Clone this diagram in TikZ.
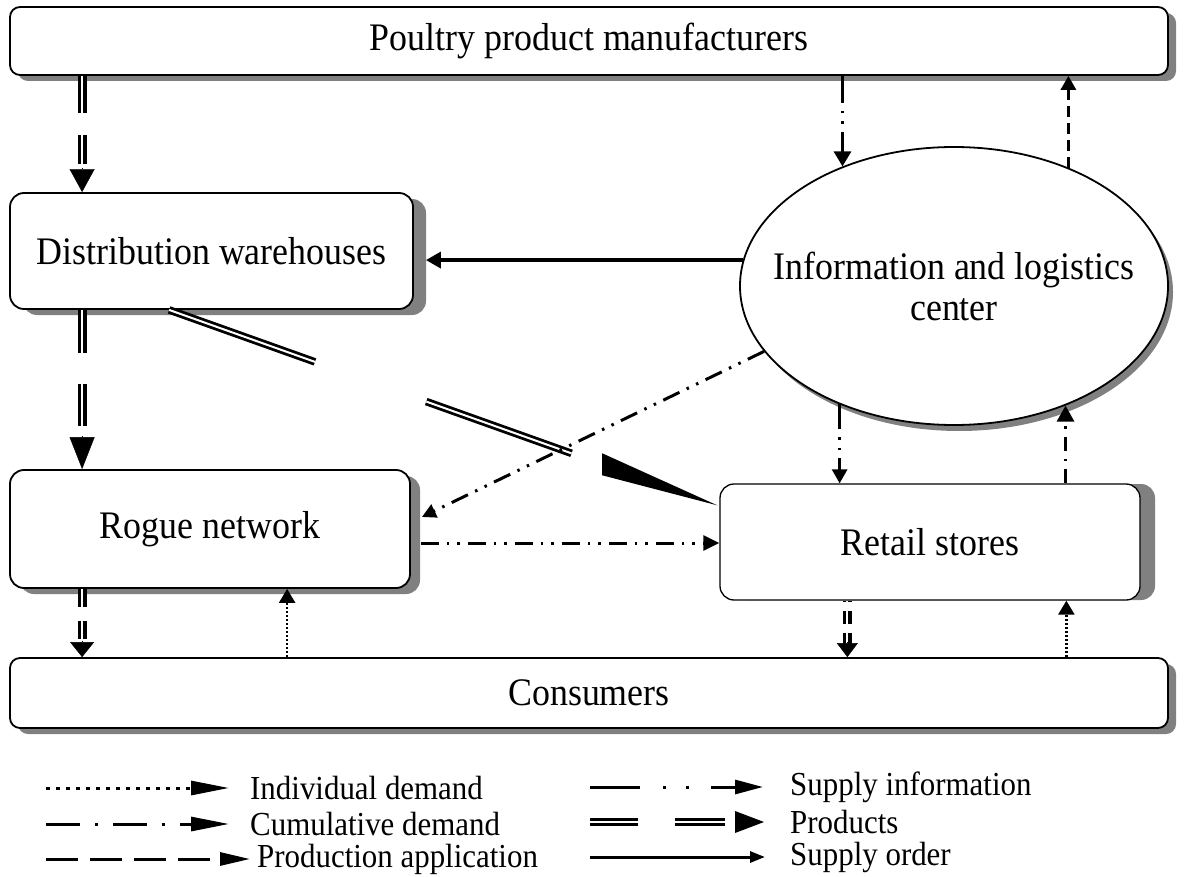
\documentclass[tikz,border=0pt]{standalone}
\usepackage{fontspec}
\setmainfont{Liberation Serif}[FakeStretch=0.92]
\usetikzlibrary{arrows.meta,shadows,calc,shapes.geometric}
\definecolor{shade}{RGB}{128,128,128}
\begin{document}
\begin{tikzpicture}[x=1pt,y=-1pt,
  every node/.style={inner sep=0pt},
  boxfont/.style={font=\fontsize{39}{41}\selectfont},
  legfont/.style={font=\fontsize{33.6}{36}\selectfont},
  box/.style={draw,line width=1.8pt,fill=white,rounded corners=14pt,boxfont},
  shd/.style={drop shadow={shadow xshift=#1,shadow yshift=-6pt,opacity=1,fill=shade}},
  % products: double line
  prod/.style={draw=black,line width=3.4pt,double=white,double distance=2pt},
  prodthin/.style={draw=black,line width=2.8pt,double=white,double distance=2pt},
  prodhead/.style 2 args={line width=0.4pt,-{Triangle[length=#1,width=#2]}},
  % information flows
  supinfo/.style={line width=3pt,dash pattern=on 18pt off 8pt on 2.5pt off 8pt on 2.5pt off 8pt},
  cumdem/.style={line width=3pt,dash pattern=on 14pt off 8pt on 2.5pt off 8pt},
  prodapp/.style={line width=3pt,dash pattern=on 11pt off 6pt},
  inddem/.style={line width=2.5pt,dash pattern=on 2pt off 2pt},
  suporder/.style={line width=3.5pt,-{Triangle[length=15pt,width=16pt]}},
  tipA/.style={-{Triangle[length=15pt,width=17pt]}},
  tipB/.style={-{Triangle[length=14pt,width=16pt]}},
]
\useasboundingbox (0,0) rectangle (1188,877);
\fill[white] (0,0) rectangle (1188,877);

% ---- boxes ----
\node[box,shd=8pt,rounded corners=10pt,minimum width=1158pt,minimum height=68pt] (top) at (589,41) {Poultry product manufacturers};
\node[box,shd=13pt,minimum width=403pt,minimum height=116pt] (dw) at (211.5,251) {Distribution warehouses};
\node[box,shd=10pt,minimum width=400pt,minimum height=118pt] (rn) at (210,529) {Rogue network};
\node[box,line width=1.3pt,drop shadow={shadow xshift=15pt,shadow yshift=0pt,opacity=1,fill=shade},minimum width=420pt,minimum height=116pt] (rs) at (930,542) {Retail stores};
\node[box,shd=8pt,rounded corners=10pt,minimum width=1158pt,minimum height=70pt] (cons) at (589,693) {Consumers};
\node[ellipse,draw,line width=1.8pt,fill=white,drop shadow={shadow xshift=5pt,shadow yshift=-6pt,opacity=1,fill=shade},minimum width=428pt,minimum height=278pt] (ilc) at (954,286) {};
\node[boxfont,align=center] (ilctext) at (ilc.center) {Information and logistics\\center};

% ---- products (double lines) ----
\coordinate (p1s) at ([xshift=73pt]top.south west);
\coordinate (p1e) at ([xshift=73pt]dw.north west);
\draw[prod,dash pattern=on 37pt off 22pt,shorten >=28pt] (p1s) -- (p1e);
\draw[prodhead={23pt}{25pt}] ($(p1e)!24pt!(p1s)$) -- (p1e);

\coordinate (p2s) at ([xshift=73pt]dw.south west);
\coordinate (p2e) at ([xshift=73pt]rn.north west);
\draw[prod,dash pattern=on 43pt off 31pt,shorten >=43pt] (p2s) -- (p2e);
\draw[prodhead={32pt}{25pt}] ($(p2e)!33pt!(p2s)$) -- (p2e);

\coordinate (p3s) at ([xshift=73pt]rn.south west);
\coordinate (p3e) at ([xshift=73pt]cons.north west);
\draw[prod,dash pattern=on 18pt off 14pt,shorten >=16pt] (p3s) -- (p3e);
\draw[prodhead={15pt}{24pt}] ($(p3e)!16pt!(p3s)$) -- (p3e);

\coordinate (p4s) at ([xshift=128pt]rs.south west);
\coordinate (p4e) at (p4s |- cons.north);
\draw[prod,dash pattern=on 13pt off 9pt,dash phase=12pt,shorten >=13pt] (p4s) -- (p4e);
\draw[prodhead={14pt}{21pt}] ($(p4e)!15pt!(p4s)$) -- (p4e);

\coordinate (p5s) at ([xshift=160pt]dw.south west);
\coordinate (p5e) at ([xshift=-2pt,yshift=-22pt]rs.north west);
\draw[prodthin] (p5s) -- ($(p5s)!0.266!(p5e)$);
\draw[prodthin] ($(p5s)!0.469!(p5e)$) -- ($(p5s)!0.734!(p5e)$);
\coordinate (p5b) at ($(p5s)!0.79!(p5e)$);
\fill (p5e) -- ($(p5b)+(0,-11)$) -- ($(p5b)+(0,11)$) -- cycle;

% ---- supply order ----
\coordinate (so1) at (ilc.173.8);
\coordinate (so2) at ([xshift=12pt]dw.east);
\draw[suporder] (so1) -- (so1 -| so2);

% ---- information flows around the centre ----
\draw[supinfo,dash pattern=on 27pt off 8pt on 2.5pt off 8pt on 2.5pt off 8pt,tipA] (ilc.133.5 |- top.south) -- (ilc.133.5);
\draw[prodapp,-{Triangle[length=14pt,width=15pt]}] (ilc.46.2) -- (ilc.46.2 |- top.south);
\draw[supinfo,dash pattern=on 25pt off 8pt on 2.5pt off 8pt on 2.5pt off 8pt,-{Triangle[length=14pt,width=15pt]}] (ilc.226.5) -- (ilc.226.5 |- rs.north);
\draw[cumdem,-{Triangle[length=16pt,width=17pt]}] (ilc.313.8 |- rs.north) -- (ilc.313.8);
\draw[supinfo,-{Triangle[length=14pt,width=14pt]}] (ilc.199.7) -- ([xshift=11pt,yshift=12pt]rn.east);
\coordinate (h1) at ([xshift=10pt,yshift=-14pt]rn.east);
\draw[supinfo,-{Triangle[length=16pt,width=15pt]}] (h1) -- (h1 -| rs.west);

% ---- individual demand ----
\coordinate (d1) at ([xshift=278pt]rn.south west);
\draw[inddem,tipB] (d1 |- cons.north) -- (d1);
\coordinate (d2) at ([xshift=347pt]rs.south west);
\draw[inddem,tipB] (d2 |- cons.north) -- (d2);

% ---- legend ----
\coordinate (la1) at (46,788);  \coordinate (lb1) at (229,788);
\coordinate (la2) at (46,824);  \coordinate (lb2) at (229,824);
\coordinate (la3) at (46,859);  \coordinate (lb3) at (250,859);
\draw[line width=3pt,dash pattern=on 4pt off 6pt,-{Triangle[length=38pt,width=14pt]}] (la1) -- (lb1);
\draw[line width=3pt,dash pattern=on 34pt off 15pt on 3pt off 15pt,-{Triangle[length=38pt,width=14pt]}] (la2) -- (lb2);
\draw[line width=3pt,dash pattern=on 32pt off 12pt,-{Triangle[length=30pt,width=13pt]}] (la3) -- (lb3);
\node[legfont,anchor=west] (t1) at (250,788) {Individual demand};
\node[legfont,anchor=west] (t2) at (250,824) {Cumulative demand};
\node[legfont,anchor=west] (t3) at (257,859) {Production application};

\coordinate (ra1) at (590,787);  \coordinate (rb1) at (763,787);
\draw[line width=3pt,dash pattern=on 50pt off 23pt on 3pt off 20pt on 3pt off 22pt,-{Triangle[length=28pt,width=14pt]}] (ra1) -- (rb1);
\coordinate (ra2) at (590,822);  \coordinate (rb2) at (764,822);
\draw[prodthin] (ra2) -- (638,822);
\draw[prodthin] (675,822) -- (725,822);
\fill (rb2) -- (735,811) -- (735,833) -- cycle;
\coordinate (ra3) at (590,857);  \coordinate (rb3) at (765,857);
\draw[line width=3pt,-{Triangle[length=15pt,width=11pt]}] (ra3) -- (rb3);
\node[legfont,anchor=west] (t4) at (790,787) {Supply information};
\node[legfont,anchor=west] (t5) at (790,822) {Products};
\node[legfont,anchor=west] (t6) at (790,857) {Supply order};
\end{tikzpicture}
\end{document}
